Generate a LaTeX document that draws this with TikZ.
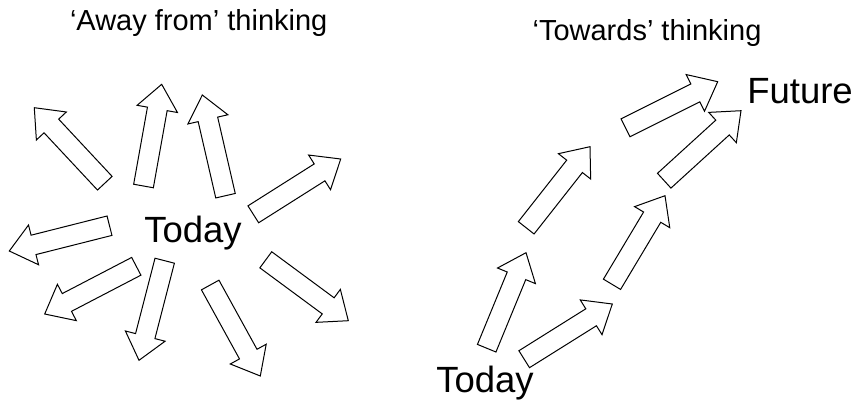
\documentclass[tikz,border=0pt]{standalone}
\usepackage{fontspec}
\setmainfont{Liberation Sans}
\usetikzlibrary{calc}

\newcommand{\blockarrow}[2]{%
  \coordinate (#2base) at ($(#2)!25pt!(#1)$);
  \filldraw[arrowbody]
    ($(#1)!10pt!90:(#2)$) -- ($(#2base)!10pt!90:(#2)$) -- ($(#2base)!20.5pt!90:(#2)$)
    -- (#2) -- ($(#2base)!20.5pt!-90:(#2)$) -- ($(#2base)!10pt!-90:(#2)$)
    -- ($(#1)!10pt!-90:(#2)$) -- cycle;
}

\begin{document}
\begin{tikzpicture}[
			x=1pt,
			y=-1pt,
			arrowbody/.style={fill=white, draw=black, line width=1pt, line join=miter},
			title label/.style={font=\fontsize{29}{32}\selectfont, anchor=base, inner sep=0pt},
			time label/.style={font=\fontsize{36.5}{40}\selectfont, anchor=base, inner sep=0pt}
		]
		\fill[white] (0,0) rectangle (856,402);
		\useasboundingbox (0,0) rectangle (856,402);

		\node[title label] (awaytitle) at (198.7,30.7) {`Away from' thinking};
		\node[title label] (towardstitle) at (647,40.7) {`Towards' thinking};

		\foreach \n/\tx/\ty/\hx/\hy in {
				nw/104.8/183.2/34.3/107.7,
				nnw/143.5/186/161.7/84.3,
				nne/225.5/195.7/202.3/95,
				ne/253.3/214.3/340.7/159,
				w/109.5/225.7/9.3/251,
				sw/136.3/266.3/44.7/314,
				ssw/164.7/260.7/139/360.3,
				sse/210.2/285/260.3/376,
				se/265.8/259.8/348.3/320.7} {
			\coordinate (away\n) at (\tx,\ty);
			\coordinate (awaytip\n) at (\hx,\hy);
			\blockarrow{away\n}{awaytip\n}
		}
		\node[time label] (todayL) at (193,242.7) {Today};

		\foreach \n/\tx/\ty/\hx/\hy in {
				a/486.7/348.2/526/252.7,
				b/524.2/359.2/612.3/304,
				c/526.2/227.8/590/146.7,
				d/612/284.3/665/195.7,
				e/625.5/127.8/717.7/81.7,
				f/664.2/180.7/741/110.7} {
			\coordinate (step\n) at (\tx,\ty);
			\coordinate (steptip\n) at (\hx,\hy);
			\blockarrow{step\n}{steptip\n}
		}
		\node[time label] (todayR) at (485,392.5) {Today};
		\node[time label] (future) at (800,103) {Future};
	\end{tikzpicture}
\end{document}
